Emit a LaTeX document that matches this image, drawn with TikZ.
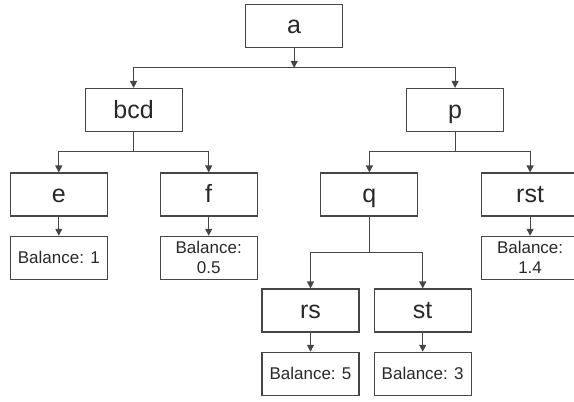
\documentclass[tikz,border=0pt]{standalone}
\usepackage{fontspec}
\setmainfont{Liberation Sans}
\usetikzlibrary{arrows.meta}
\definecolor{ln}{RGB}{70,70,70}
\definecolor{tx}{RGB}{40,40,40}
\tikzset{
  box/.style={draw=ln, line width=1.1pt, minimum width=97pt, minimum height=43pt, inner sep=0pt, text=tx, font=\fontsize{25}{27}\selectfont, text height=17pt, text depth=1pt},
  bal/.style={draw=ln, line width=1.1pt, minimum width=97pt, minimum height=43pt, inner sep=0pt, text=tx, font=\fontsize{17}{20}\selectfont, align=center},
  arr/.style={draw=ln, line width=1.1pt, -{Triangle[length=7pt,width=7pt]}},
  ln/.style={draw=ln, line width=1.1pt}
}
\begin{document}
\begin{tikzpicture}[x=1pt,y=-1pt]
\useasboundingbox (0,0) rectangle (574,402);
\clip (0,0) rectangle (574,402);
\node[box] (a) at (294.2,25.8) {a};
\node[box] (bcd) at (133.6,110) {bcd};
\node[box] (p) at (455.1,110) {p};
\node[box] (e) at (58.8,194.5) {e};
\node[box] (f) at (208.7,194.5) {f};
\node[box] (q) at (369.4,194.5) {q};
\node[box] (rst) at (530.1,194.5) {rst};
\node[bal] (be) at (58.8,257.8) {Balance: 1};
\node[bal] (bf) at (208.7,257.8) {Balance:\\0.5};
\node[bal] (brst) at (530.1,257.8) {Balance:\\1.4};
\node[box] (rs) at (310.5,310.5) {rs};
\node[box] (st) at (422.7,310.5) {st};
\node[bal] (brs) at (310.5,373.8) {Balance: 5};
\node[bal] (bst) at (422.7,373.8) {Balance: 3};
\coordinate (j1) at (294.2,67.9);
\coordinate (j2) at (133.6,151.6);
\coordinate (j3) at (455.1,151.6);
\coordinate (j4) at (369.4,252.7);
\draw[arr] (a.south) -- (j1);
\draw[arr] (j1) -| (bcd.north);
\draw[arr] (j1) -| (p.north);
\draw[ln] (bcd.south) -- (j2);
\draw[arr] (j2) -| (e.north);
\draw[arr] (j2) -| (f.north);
\draw[ln] (p.south) -- (j3);
\draw[arr] (j3) -| (q.north);
\draw[arr] (j3) -| (rst.north);
\draw[ln] (q.south) -- (j4);
\draw[arr] (j4) -| (rs.north);
\draw[arr] (j4) -| (st.north);
\draw[arr] (e) -- (be);
\draw[arr] (f) -- (bf);
\draw[arr] (rst) -- (brst);
\draw[arr] (rs) -- (brs);
\draw[arr] (st) -- (bst);
\end{tikzpicture}
\end{document}
